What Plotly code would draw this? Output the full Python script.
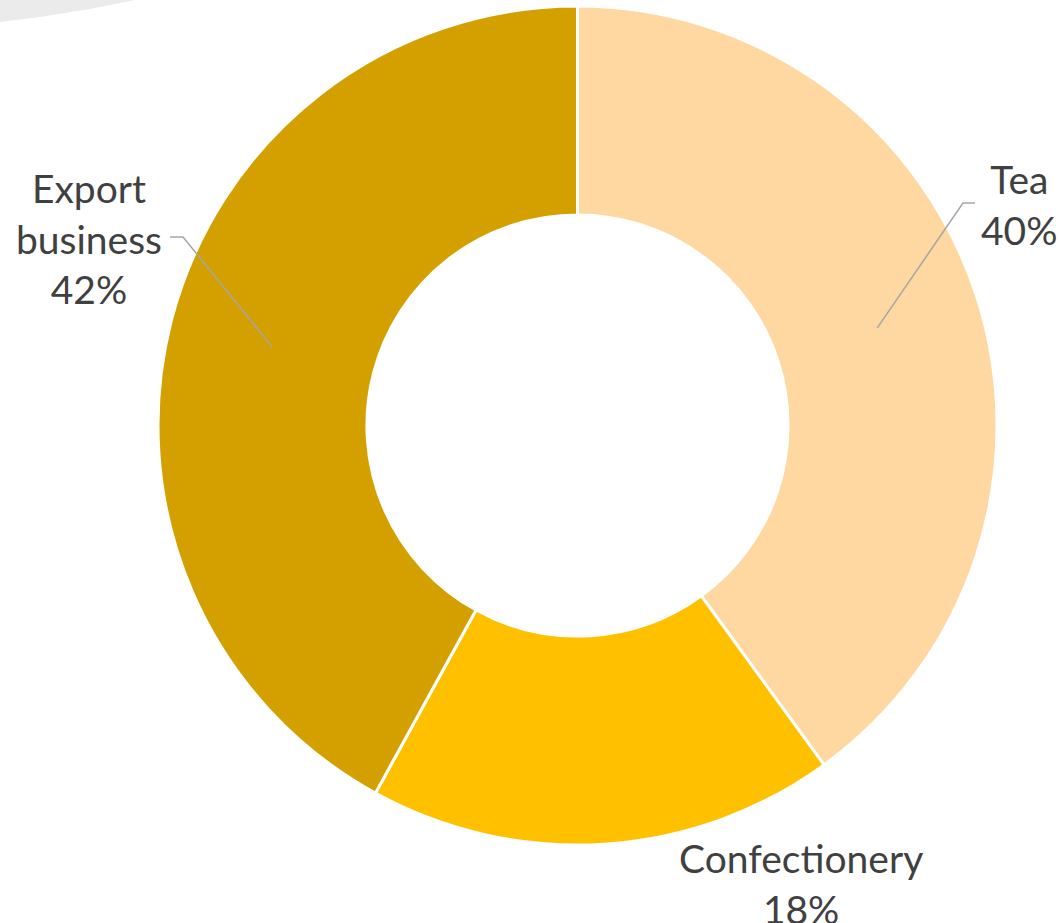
import plotly.graph_objects as go
import math

# Revenue share by business segment
labels = ["Tea", "Confectionery", "Export business"]
shares = [40, 18, 42]
colors = ["#FFD7A0", "#FFC000", "#D3A000"]

W, H = 1061, 923
CX, CY = 577.5, 425.5          # donut centre (px)
R_OUT = 419.5                  # outer radius (px)
HOLE = 0.502
R_MID = R_OUT * (1 + HOLE) / 2  # leader lines start mid-ring

TEXT = "#404040"
LEADER = "#A6A6A6"
FONT = "Lato"
FSIZE = 39


def px(x, y):
    return x / W, 1 - y / H


fig = go.Figure()
fig.add_trace(go.Pie(
    labels=labels,
    values=shares,
    hole=HOLE,
    sort=False,
    direction="clockwise",
    rotation=0,
    marker=dict(colors=colors, line=dict(color="white", width=3)),
    textinfo="none",
    hoverinfo="label+percent",
    showlegend=False,
    domain=dict(x=[(CX - R_OUT) / W, (CX + R_OUT) / W],
                y=[1 - (CY + R_OUT) / H, 1 - (CY - R_OUT) / H]),
))

# mid-angle of each slice (degrees clockwise from 12 o'clock)
total = sum(shares)
mid = []
acc = 0
for v in shares:
    mid.append((acc + v / 2) / total * 360)
    acc += v


def ring_point(angle_deg, r):
    a = math.radians(angle_deg)
    return CX + r * math.sin(a), CY - r * math.cos(a)


# label placement (px): leader elbow, leader end, text centre
label_layout = {
    "Tea": dict(elbow=(963, 203), end=(975, 203), pos=(1019, 204)),
    "Confectionery": dict(elbow=None, end=None, pos=(801, 883)),
    "Export business": dict(elbow=(183, 237), end=(170, 237), pos=(89, 238)),
}

shapes = []
annotations = []
for lab, v, ang in zip(labels, shares, mid):
    cfg = label_layout[lab]
    if cfg["elbow"] is not None:
        ax, ay = ring_point(ang, R_MID)
        pts = [px(ax, ay), px(*cfg["elbow"]), px(*cfg["end"])]
        path = "M {} {} L {} {} L {} {}".format(*[c for p in pts for c in p])
        shapes.append(dict(type="path", path=path, xref="paper", yref="paper",
                           line=dict(color=LEADER, width=1.5)))
    text = lab.replace(" ", "<br>") if lab == "Export business" else lab
    tx, ty = px(*cfg["pos"])
    annotations.append(dict(
        x=tx, y=ty, xref="paper", yref="paper",
        text=f"{text}<br>{v}%", showarrow=False,
        xanchor="center", yanchor="middle", align="center",
        font=dict(family=FONT, size=FSIZE, color=TEXT),
    ))

# faint grey swoosh in the top-left corner
sw = [(0, 0), (0, 22), (40, 17), (90, 9), (135, 0)]
swp = [px(x, y) for x, y in sw]
path = "M " + " L ".join(f"{x} {y}" for x, y in swp) + " Z"
shapes.insert(0, dict(type="path", path=path, xref="paper", yref="paper",
                      fillcolor="#EBEBEB", line=dict(width=0), layer="below"))

fig.update_layout(
    width=W, height=H,
    margin=dict(l=0, r=0, t=0, b=0),
    paper_bgcolor="white",
    plot_bgcolor="white",
    shapes=shapes,
    annotations=annotations,
)

fig.write_html("out.html")
